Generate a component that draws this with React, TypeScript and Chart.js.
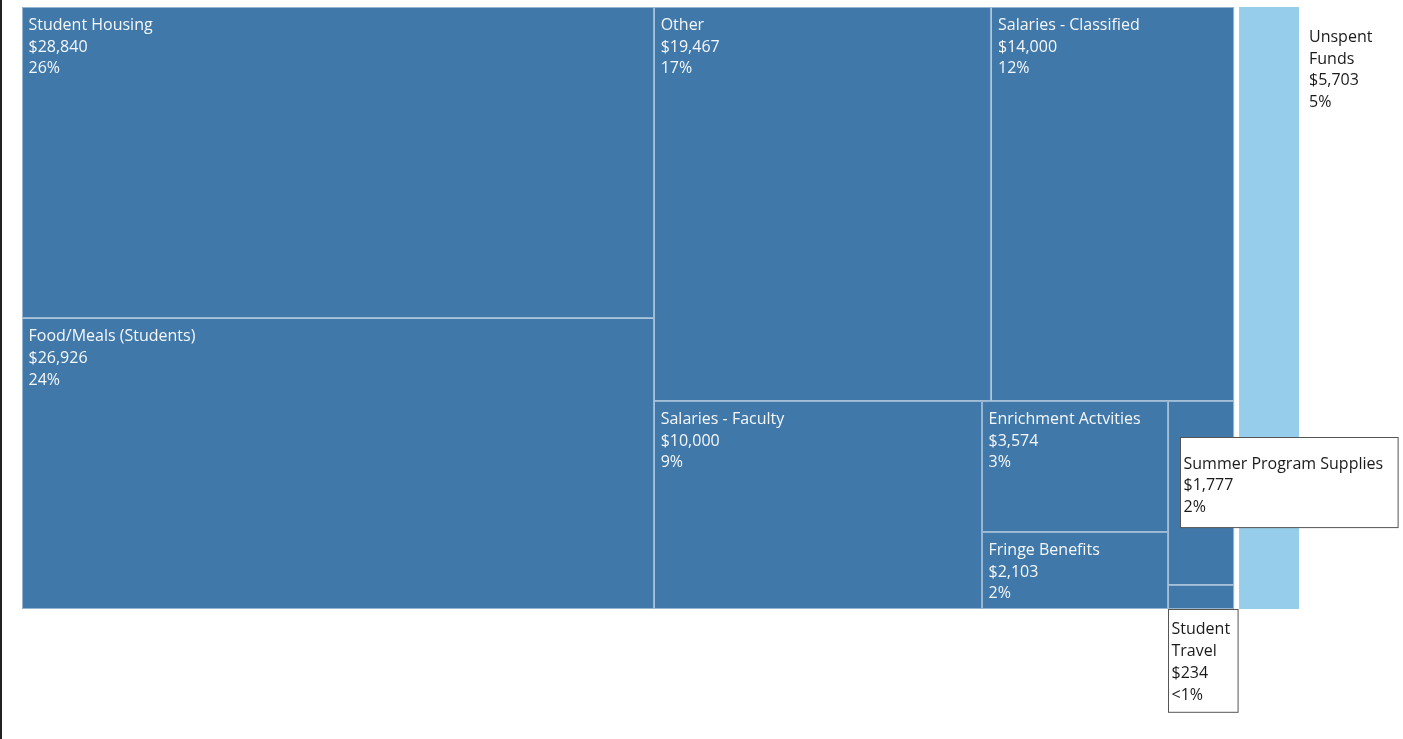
import React, { useEffect, useRef } from "react";
import { Chart, registerables } from "chart.js";

Chart.register(...registerables);

// ---- Data ----
const categories: string[] = [
  "Student Housing",
  "Food/Meals (Students)",
  "Other",
  "Salaries - Classified",
  "Salaries - Faculty",
  "Enrichment Actvities",
  "Fringe Benefits",
  "Summer Program Supplies",
  "Student Travel",
  "Unspent Funds",
];
const amounts: number[] = [28840, 26926, 19467, 14000, 10000, 3574, 2103, 1777, 234, 5703];
const fundStatus: string[] = [
  "Spent", "Spent", "Spent", "Spent", "Spent", "Spent", "Spent", "Spent", "Spent", "Unspent",
];

const STATUS_COLORS: Record<string, string> = {
  Spent: "#4079a9",
  Unspent: "#96cdea",
};

type R = { x: number; y: number; w: number; h: number };

// Squarified layout in data units; aspect evaluated in pixels (kx, ky = px per unit)
function squarify(values: number[], rect: R, kx: number, ky: number): R[] {
  const order = values.map((v, i) => i).sort((a, b) => values[b] - values[a]);
  const out: R[] = new Array(values.length);
  let r = { ...rect };
  let idx = 0;
  const worst = (row: number[], side: number, scale: number) => {
    const s = row.reduce((a, b) => a + b, 0);
    const t = (s * scale) / side;
    let m = 0;
    for (const v of row) {
      const l = (v * scale) / t;
      m = Math.max(m, t / l, l / t);
    }
    return m;
  };
  while (idx < order.length) {
    const W = r.w * kx;
    const H = r.h * ky;
    const remaining = order.slice(idx).reduce((a, i) => a + values[i], 0);
    const scale = (W * H) / remaining;
    const vertical = W >= H; // lay a column along the height
    const side = vertical ? H : W;
    const row: number[] = [order[idx]];
    let cur = worst([values[order[idx]]], side, scale);
    let j = idx + 1;
    while (j < order.length) {
      const cand = [...row, order[j]];
      const nw = worst(cand.map((i) => values[i]), side, scale);
      if (nw <= cur * 1.4) {
        row.push(order[j]);
        cur = nw;
        j++;
      } else break;
    }
    const rowSum = row.reduce((a, i) => a + values[i], 0);
    const frac = rowSum / remaining;
    if (vertical) {
      const cw = r.w * frac;
      let yy = r.y;
      for (const i of row) {
        const hh = (r.h * values[i]) / rowSum;
        out[i] = { x: r.x, y: yy, w: cw, h: hh };
        yy += hh;
      }
      r = { x: r.x + cw, y: r.y, w: r.w - cw, h: r.h };
    } else {
      const rh = r.h * frac;
      let xx = r.x;
      for (const i of row) {
        const ww = (r.w * values[i]) / rowSum;
        out[i] = { x: xx, y: r.y, w: ww, h: rh };
        xx += ww;
      }
      r = { x: r.x, y: r.y + rh, w: r.w, h: r.h - rh };
    }
    idx = j;
  }
  return out;
}

const fmtMoney = (v: number) => "$" + v.toLocaleString("en-US");
const fmtPct = (v: number, total: number) => {
  const p = (v / total) * 100;
  return p < 1 ? "<1%" : Math.round(p) + "%";
};

const FONT = '16px "Open Sans"';
const LINE = 21.7;
const BASE = 1.5; // baseline nudge for middle alignment

const treemapPlugin = {
  id: "treemapPlugin",
  afterDraw(chart: any) {
    const { ctx, chartArea: ca, scales } = chart;
    const xs = scales.x;
    const ys = scales.y;
    const kx = (xs.getPixelForValue(100) - xs.getPixelForValue(0)) / 100;
    const ky = (ys.getPixelForValue(100) - ys.getPixelForValue(0)) / 100;
    const total = amounts.reduce((a, b) => a + b, 0);

    const groupNames = Array.from(new Set(fundStatus));
    const groupValues = groupNames.map((g) =>
      amounts.reduce((a, v, i) => a + (fundStatus[i] === g ? v : 0), 0)
    );
    const groupRects = squarify(groupValues, { x: 0, y: 0, w: 100, h: 100 }, kx, ky);
    const gapX = 2.5 / kx;
    const gapY = 2.5 / ky;

    const cellRects: R[] = new Array(amounts.length);
    groupNames.forEach((g, gi) => {
      const gr = groupRects[gi];
      const inner = { x: gr.x + gapX, y: gr.y + gapY, w: gr.w - 2 * gapX, h: gr.h - 2 * gapY };
      const members = amounts.map((v, i) => i).filter((i) => fundStatus[i] === g);
      const rs = squarify(members.map((i) => amounts[i]), inner, kx, ky);
      members.forEach((i, k) => (cellRects[i] = rs[k]));
    });

    const px = cellRects.map((r) => {
      const x0 = xs.getPixelForValue(r.x);
      const y0 = ys.getPixelForValue(r.y);
      const x1 = xs.getPixelForValue(r.x + r.w);
      const y1 = ys.getPixelForValue(r.y + r.h);
      return { x: x0, y: y0, w: x1 - x0, h: y1 - y0 };
    });

    ctx.save();
    // fills
    px.forEach((p, i) => {
      ctx.fillStyle = STATUS_COLORS[fundStatus[i]];
      ctx.fillRect(p.x, p.y, p.w, p.h);
    });
    // thin light borders
    ctx.strokeStyle = "rgba(255,255,255,0.45)";
    ctx.lineWidth = 1;
    px.forEach((p, i) => {
      if (fundStatus[i] !== "Spent") return;
      ctx.strokeRect(Math.round(p.x) + 0.5, Math.round(p.y) + 0.5, Math.round(p.w) - 1, Math.round(p.h) - 1);
    });

    // labels
    ctx.font = FONT;
    ctx.textBaseline = "middle";
    ctx.textAlign = "left";
    const outerRight = ca.right - 2.5;
    const outerBottom = ca.bottom - 2.5;
    px.forEach((p, i) => {
      const lines = [categories[i], fmtMoney(amounts[i]), fmtPct(amounts[i], total)];
      const maxW = Math.max(...lines.map((l) => ctx.measureText(l).width));
      const fits = maxW + 14 <= p.w && lines.length * LINE + 10 <= p.h;
      if (fits) {
        ctx.fillStyle = "#f5f7fa";
        lines.forEach((l, k) => ctx.fillText(l, p.x + 6.5, p.y + 17 + BASE + k * LINE));
        return;
      }
      const wrapped = [...categories[i].split(" "), lines[1], lines[2]];
      if (Math.abs(p.x + p.w - outerRight) < 1) {
        // outside to the right, no box
        ctx.fillStyle = "#1a1a1a";
        wrapped.forEach((l, k) => ctx.fillText(l, p.x + p.w + 10, p.y + 29 + BASE + k * LINE));
      } else if (Math.abs(p.y + p.h - outerBottom) < 1) {
        // boxed callout below the cell
        const w = Math.max(...wrapped.map((l) => ctx.measureText(l).width));
        const bx = Math.round(p.x) + 0.5;
        const by = Math.round(p.y + p.h) + 0.5;
        const bh = wrapped.length * LINE + 16;
        ctx.fillStyle = "#ffffff";
        ctx.fillRect(bx, by, w + 11, bh);
        ctx.strokeStyle = "#555555";
        ctx.strokeRect(bx, by, w + 11, bh);
        ctx.fillStyle = "#1a1a1a";
        wrapped.forEach((l, k) => ctx.fillText(l, bx + 3, by + 8 + LINE / 2 + BASE + k * LINE));
      } else {
        // boxed callout overlapping to the right
        const bx = Math.round(p.x + 12) + 0.5;
        const by = Math.round(p.y + 36) + 0.5;
        const bh = lines.length * LINE + 25;
        ctx.fillStyle = "#ffffff";
        ctx.fillRect(bx, by, maxW + 18, bh);
        ctx.strokeStyle = "#555555";
        ctx.strokeRect(bx, by, maxW + 18, bh);
        ctx.fillStyle = "#1a1a1a";
        lines.forEach((l, k) => ctx.fillText(l, bx + 3, by + 25 + BASE + k * LINE));
      }
    });
    ctx.restore();
  },
};

export default function App() {
  const ref = useRef<HTMLCanvasElement | null>(null);
  useEffect(() => {
    if (!ref.current) return;
    const chart = new Chart(ref.current, {
      type: "scatter",
      data: { datasets: [{ data: [] }] },
      options: {
        animation: false,
        responsive: false,
        maintainAspectRatio: false,
        layout: { padding: { left: 19.5, top: 4.5, right: 101.5, bottom: 127.5 } },
        plugins: { legend: { display: false }, tooltip: { enabled: false } },
        scales: {
          x: { type: "linear", min: 0, max: 100, display: false },
          y: { type: "linear", min: 0, max: 100, reverse: true, display: false },
        },
      },
      plugins: [treemapPlugin],
    });
    return () => chart.destroy();
  }, []);
  return (
    <div style={{ position: "absolute", left: 0, top: 0, width: 1403, height: 739, background: "#fff", overflow: "hidden" }}>
      <div style={{ position: "absolute", left: 0, top: 0, width: 2, height: 739, background: "#222" }} />
      <canvas ref={ref} width={1403} height={739} style={{ display: "block" }} />
    </div>
  );
}
